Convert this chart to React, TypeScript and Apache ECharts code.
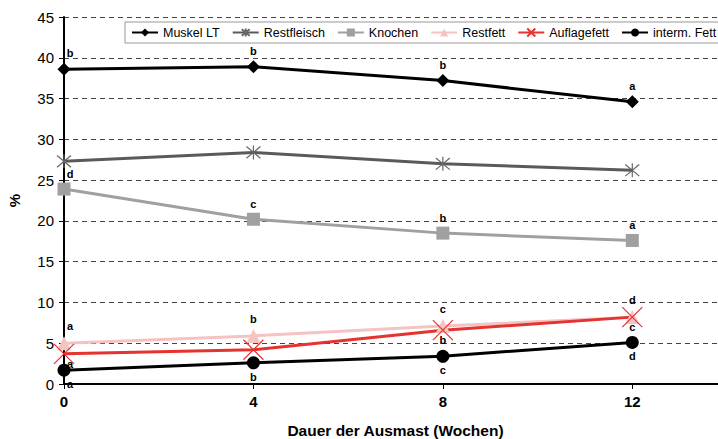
import React, { useEffect, useRef } from "react";
import * as echarts from "echarts";

const weeks = [0, 4, 8, 12];
const seriesNames = ["Muskel LT", "Restfleisch", "Knochen", "Restfett", "Auflagefett", "interm. Fett"];
const muskel = [38.6, 38.9, 37.2, 34.6];
const restfleisch = [27.3, 28.4, 27.0, 26.2];
const knochen = [23.9, 20.2, 18.5, 17.6];
const restfett = [5.0, 5.9, 7.1, 8.2];
const auflagefett = [3.7, 4.2, 6.6, 8.2];
const intermFett = [1.7, 2.6, 3.4, 5.1];

const lettersMuskel = ["b", "b", "b", "a"];
const lettersKnochen = ["d", "c", "b", "a"];
const lettersRestfett = ["a", "b", "c", "d"];
const lettersAuflage = ["a", "a", "b", "c"];
const lettersInterm = ["a", "b", "c", "d"];

const FONT = "'Liberation Sans', Arial, Helvetica, sans-serif";
const asterisk = "path://M0,0L10,10M10,0L0,10M5,-1L5,11";
const cross = "path://M0,0L10,10M10,0L0,10";

function mk(values: number[], letters: string[] | null, dy: number) {
  return values.map((v, i) => {
    const item: any = { value: [weeks[i], v] };
    if (letters) {
      item.label = {
        show: true,
        formatter: letters[i],
        position: "inside",
        offset: [i === 0 ? 6 : 0, dy],
        color: "#000",
        fontWeight: "bold",
        fontSize: 11,
        fontFamily: FONT,
      };
    }
    return item;
  });
}

export default function App() {
  const ref = useRef<HTMLDivElement>(null);
  useEffect(() => {
    if (!ref.current) return;
    const chart = echarts.init(ref.current, null, { renderer: "svg" });
    const line = (name: string, data: any[], color: string, symbol: string, size: number, extra: any = {}) => ({
      name,
      type: "line",
      data,
      symbol,
      symbolSize: size,
      showAllSymbol: true,
      lineStyle: { color, width: 3 },
      itemStyle: { color },
      emphasis: { disabled: true },
      ...extra,
    });
    chart.setOption({
      animation: false,
      backgroundColor: "#fff",
      textStyle: { fontFamily: FONT },
      grid: { left: 64, top: 17, bottom: 55, right: -9, containLabel: false, outerBoundsMode: "none" },
      legend: {
        left: 125,
        top: 22,
        width: 900,
        itemGap: 12,
        itemWidth: 26,
        itemHeight: 10,
        padding: [4, 4, 4, 6],
        borderColor: "#999",
        borderWidth: 1,
        backgroundColor: "#fff",
        textStyle: { fontSize: 12.5, color: "#000", fontFamily: FONT },
        data: seriesNames,
      },
      xAxis: {
        type: "value",
        min: 0,
        max: 14,
        interval: 4,
        name: "Dauer der Ausmast (Wochen)",
        nameLocation: "middle",
        nameGap: 38,
        nameTextStyle: { fontSize: 15.5, fontWeight: "bold", color: "#000", fontFamily: FONT },
        axisLine: { lineStyle: { color: "#000", width: 2 } },
        axisTick: { show: true, length: 5, lineStyle: { color: "#000" } },
        axisLabel: { fontSize: 15, fontWeight: "bold", color: "#000", margin: 10, showMaxLabel: false, fontFamily: FONT },
        splitLine: { show: false },
      },
      yAxis: {
        type: "value",
        min: 0,
        max: 45,
        interval: 5,
        name: "%",
        nameLocation: "middle",
        nameRotate: 90,
        nameGap: 42,
        nameTextStyle: { fontSize: 15, fontWeight: "bold", color: "#000", fontFamily: FONT },
        axisLine: { show: true, lineStyle: { color: "#000", width: 2 } },
        axisTick: { show: true, length: 5, lineStyle: { color: "#000" } },
        axisLabel: { fontSize: 15, color: "#000", margin: 10, fontFamily: FONT },
        splitLine: { show: true, lineStyle: { color: "#444", width: 1, type: [5, 4] } },
      },
      series: [
        line("Muskel LT", mk(muskel, lettersMuskel, -16), "#000", "diamond", 13),
        line("Restfleisch", mk(restfleisch, null, 0), "#5a5a5a", asterisk, 14, {
          itemStyle: { color: "none", borderColor: "#666", borderWidth: 1.2 },
        }),
        line("Knochen", mk(knochen, lettersKnochen, -15), "#a0a0a0", "rect", 13),
        line("Restfett", mk(restfett, lettersRestfett, -17), "#f6c3c3", "triangle", 14),
        line("Auflagefett", mk(auflagefett, lettersAuflage, 10), "#e5332f", cross, 20, {
          itemStyle: { color: "none", borderColor: "#e5332f", borderWidth: 1.2 },
        }),
        line("interm. Fett", mk(intermFett, lettersInterm, 14), "#000", "circle", 13),
      ],
    });
    return () => chart.dispose();
  }, []);
  return (
    <div
      ref={ref}
      style={{ position: "absolute", left: 0, top: 0, width: 718, height: 439 }}
    />
  );
}
